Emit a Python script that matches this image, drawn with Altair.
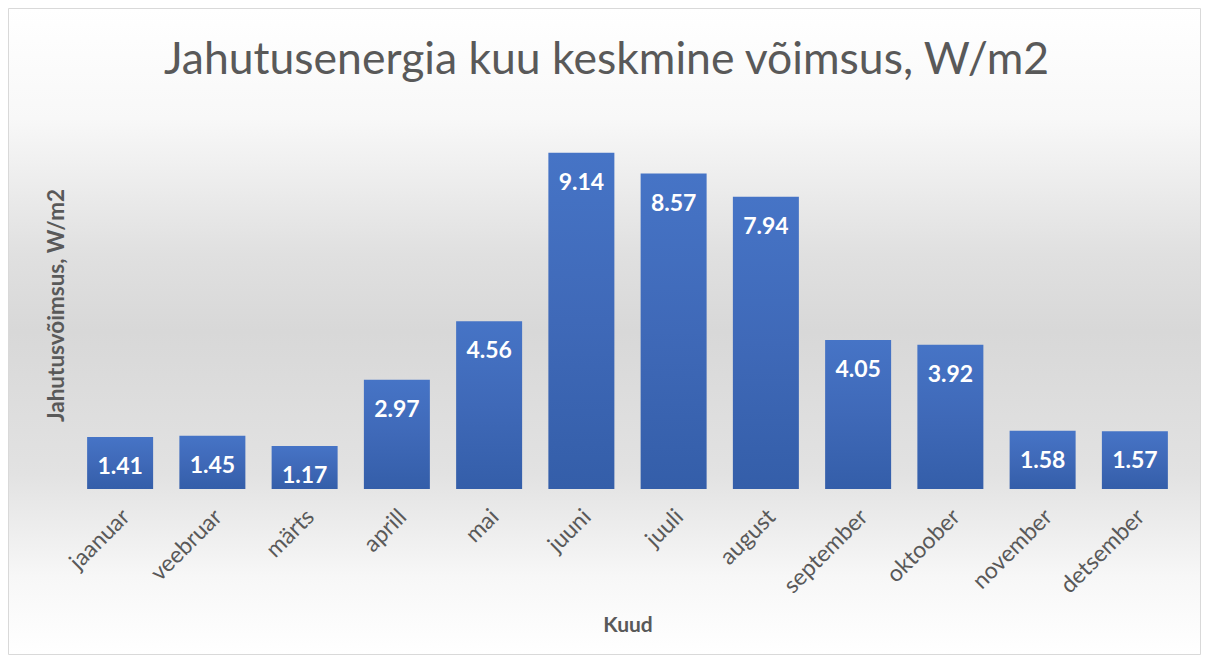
import altair as alt
import pandas as pd

months = ["jaanuar", "veebruar", "märts", "aprill", "mai", "juuni",
          "juuli", "august", "september", "oktoober", "november", "detsember"]
values = [1.41, 1.45, 1.17, 2.97, 4.56, 9.14, 8.57, 7.94, 4.05, 3.92, 1.58, 1.57]

df = pd.DataFrame({"kuu": months, "v": values})
df["label"] = df["v"].map(lambda x: f"{x:.2f}")

W, H = 1107, 368
PL, PT, PR, PB = 66, 113, 20, 166
FONT = "Lato"
GREY = "#595959"

bg_grad = alt.LinearGradient(
    gradient="linear", x1=0, y1=0, x2=0, y2=1,
    stops=[
        alt.GradientStop(color="#ffffff", offset=0.0),
        alt.GradientStop(color="#f8f8f8", offset=0.17),
        alt.GradientStop(color="#e0e0e0", offset=0.38),
        alt.GradientStop(color="#d8d8d8", offset=0.5),
        alt.GradientStop(color="#e2e2e2", offset=0.72),
        alt.GradientStop(color="#f7f7f7", offset=0.88),
        alt.GradientStop(color="#ffffff", offset=1.0),
    ],
)

bar_grad = alt.LinearGradient(
    gradient="linear", x1=0, y1=0, x2=0, y2=1,
    stops=[
        alt.GradientStop(color="#4674c6", offset=0.0),
        alt.GradientStop(color="#3f69b8", offset=0.5),
        alt.GradientStop(color="#345ea9", offset=1.0),
    ],
)

background = alt.Chart(alt.Data(values=[{}])).mark_rect(
    fill=bg_grad, stroke="#d9d9d9", strokeWidth=1
).encode(
    x=alt.value(-PL + 0.5), x2=alt.value(W + PR - 0.5),
    y=alt.value(-PT + 0.5), y2=alt.value(H + PB - 0.5),
)

xenc = alt.X(
    "kuu:N", sort=months,
    scale=alt.Scale(paddingInner=0.2846, paddingOuter=0.1423),
    axis=alt.Axis(
        title="Kuud", labelAngle=-45, labelAlign="right", labelBaseline="middle",
        labelFont=FONT, labelFontSize=23, labelColor=GREY, labelPadding=24,
        labelOffset=6, zindex=2,
        ticks=False, domain=False, grid=False,
        titleFont=FONT, titleFontSize=21, titleFontWeight="bold", titleColor=GREY,
        titleY=125, titleBaseline="top",
    ),
)
yenc = alt.Y(
    "v:Q", scale=alt.Scale(domain=[0, 10], nice=False, zero=True),
    axis=alt.Axis(
        title="Jahutusvõimsus, W/m2", labels=False, ticks=False, domain=False,
        grid=False, titleFont=FONT, titleFontSize=22.5, titleFontWeight="bold",
        titleColor=GREY, titlePadding=6, zindex=2,
    ),
)

bars = alt.Chart(df).mark_bar(fill=bar_grad).encode(x=xenc, y=yenc)

labels = alt.Chart(df).mark_text(
    font=FONT, fontSize=23, fontWeight="bold", color="white",
    baseline="middle", dy=30,
).encode(x=alt.X("kuu:N", sort=months), y="v:Q", text="label:N")

chart = alt.layer(background, bars, labels).properties(
    width=W, height=H,
    padding={"left": PL, "top": PT, "right": PR, "bottom": PB},
    autosize=alt.AutoSizeParams(type="none"),
    title=alt.TitleParams(
        "Jahutusenergia kuu keskmine võimsus, W/m2",
        font=FONT, fontSize=44.5, fontWeight="normal", color=GREY,
        anchor="middle", offset=40, dx=-21, dy=115,
    ),
).configure_view(stroke=None).configure(background="white")

chart.save("out.html", embed_options={"renderer": "svg", "actions": False})
